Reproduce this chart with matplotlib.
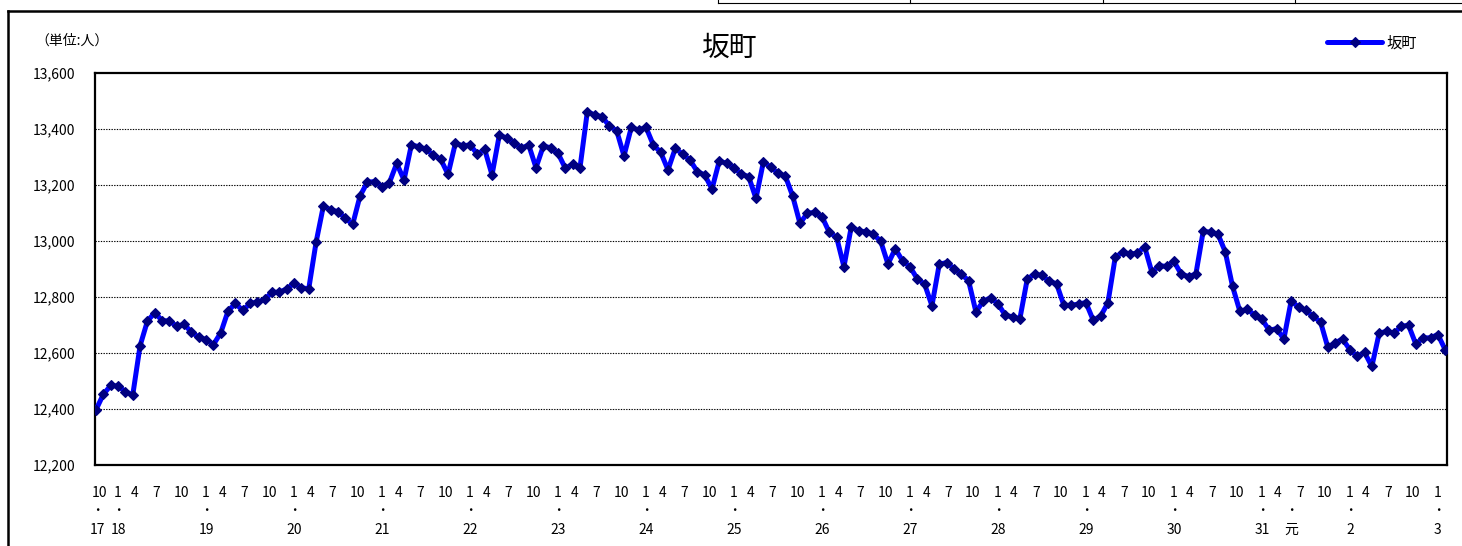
import matplotlib
matplotlib.use("Agg")
import matplotlib.pyplot as plt
from matplotlib.lines import Line2D
import numpy as np

plt.rcParams['font.family'] = ['Noto Sans CJK JP', 'DejaVu Sans']

# ---- data (monthly population, Oct 2005 .. Feb 2021) ----
title = "坂町"
series_name = "坂町"
unit_label = "（単位:人）"

v2005 = [12398, 12453, 12484]                      # Oct-Dec
v2006 = [12482, 12462, 12450, 12626, 12714, 12744, 12716, 12714, 12696, 12702, 12675, 12656]
v2007 = [12648, 12630, 12672, 12750, 12777, 12752, 12777, 12782, 12792, 12817, 12817, 12829]
v2008 = [12849, 12833, 12829, 12995, 13125, 13111, 13105, 13081, 13060, 13161, 13210, 13212]
v2009 = [13194, 13208, 13277, 13218, 13343, 13337, 13327, 13307, 13292, 13238, 13349, 13340]
v2010 = [13343, 13311, 13327, 13236, 13379, 13367, 13351, 13331, 13343, 13262, 13339, 13333]
v2011 = [13313, 13260, 13274, 13262, 13462, 13450, 13444, 13411, 13394, 13304, 13406, 13396]
v2012 = [13406, 13343, 13317, 13254, 13331, 13310, 13289, 13248, 13236, 13186, 13286, 13277]
v2013 = [13262, 13239, 13230, 13152, 13281, 13265, 13242, 13232, 13161, 13063, 13099, 13102]
v2014 = [13087, 13031, 13013, 12908, 13051, 13036, 13033, 13024, 13000, 12918, 12972, 12929]
v2015 = [12908, 12865, 12846, 12769, 12917, 12923, 12901, 12882, 12858, 12747, 12785, 12797]
v2016 = [12776, 12735, 12729, 12723, 12864, 12882, 12877, 12856, 12847, 12770, 12770, 12775]
v2017 = [12780, 12717, 12731, 12779, 12942, 12960, 12954, 12956, 12980, 12888, 12912, 12909]
v2018 = [12927, 12882, 12873, 12882, 13035, 13031, 13025, 12962, 12838, 12749, 12756, 12736]
v2019 = [12721, 12681, 12687, 12650, 12787, 12763, 12752, 12731, 12711, 12620, 12636, 12650]
v2020 = [12612, 12588, 12602, 12552, 12671, 12677, 12671, 12695, 12699, 12632, 12654, 12654]
v2021 = [12666, 12612]                             # Jan-Feb

start_year, start_month = 2005, 10
month_tick_labels = [10, 1, 4, 7]
# era year labels: first point, each January, and May 2019 (Reiwa 元年)
era_labels = ['17', '18', '19', '20', '21', '22', '23', '24', '25', '26',
              '27', '28', '29', '30', '31', '元', '2', '3']

yticks = [12200, 12400, 12600, 12800, 13000, 13200, 13400, 13600]

values = (v2005 + v2006 + v2007 + v2008 + v2009 + v2010 + v2011 + v2012 +
          v2013 + v2014 + v2015 + v2016 + v2017 + v2018 + v2019 + v2020 + v2021)
n = len(values)
x = np.arange(n)
years = [start_year + (start_month - 1 + k) // 12 for k in range(n)]
months = [(start_month - 1 + k) % 12 + 1 for k in range(n)]

# ---- figure ----
W, H = 1462, 546
fig = plt.figure(figsize=(W / 100, H / 100), dpi=100)
def fx(px): return px / W
def fy(py): return 1 - py / H

ax = fig.add_axes([fx(95), fy(465), fx(1447) - fx(95), fy(73) - fy(465)])
ax.plot(x, values, color='#0000FF', lw=3.6, marker='D', ms=4.9,
        mfc='#000080', mec='#000080', mew=0.8, label=series_name,
        solid_capstyle='round', solid_joinstyle='round', zorder=3)

ax.set_xlim(-0.15, n - 1 + 0.25)
ax.set_ylim(yticks[0], yticks[-1])
ax.set_yticks(yticks)
ax.set_yticklabels([f"{v:,}" for v in yticks], fontsize=10)
ax.tick_params(axis='y', length=0, pad=14)
ax.set_xticks([])
for yv in yticks[1:-1]:
    ax.axhline(yv, color='black', lw=0.8, ls=(0, (1.2, 1.2)), zorder=1)
for s in ax.spines.values():
    s.set_linewidth(1.6)
    s.set_color('black')

# ---- category labels (3 rows) ----
tr = ax.get_xaxis_transform()
offs = {10: -0.4, 1: 0.0, 4: -0.8, 7: -0.8}
row1, row2, row3 = -0.072, -0.117, -0.166
era_i = 0
for k in range(n):
    m = months[k]
    if m in month_tick_labels:
        pos = k + (0.4 if k == 0 else offs[m])
        ax.text(pos, row1, str(m), transform=tr, ha='center', va='center',
                fontsize=10)
    is_era = (k == 0) or (m == 1) or (years[k] == 2019 and m == 5)
    if is_era and era_i < len(era_labels):
        pos = k + (0.2 if k == 0 else 0.0)
        ax.text(pos, row2, '・', transform=tr, ha='center', va='center',
                fontsize=9)
        ax.text(pos, row3, era_labels[era_i], transform=tr, ha='center',
                va='center', fontsize=10)
        era_i += 1

# ---- titles ----
fig.text(fx(729), fy(48), title, ha='center', va='center', fontsize=20)
fig.text(fx(35), fy(41), unit_label, ha='left', va='center', fontsize=10)

leg = ax.legend(loc='center left', bbox_to_anchor=(fx(1327), fy(43)),
                bbox_transform=fig.transFigure, frameon=False, fontsize=11,
                handlelength=3.6, handletextpad=0.3, borderpad=0,
                borderaxespad=0, numpoints=1)

# ---- outer frame and table fragment ----
def fline(xs, ys, lw):
    fig.add_artist(Line2D([fx(v) for v in xs], [fy(v) for v in ys],
                          color='black', lw=lw, transform=fig.transFigure))
fline([8, 8], [11, 546], 1.8)
fline([8, 1462], [11, 11], 1.8)
fline([718, 1462], [3, 3], 0.8)
for xv in [718, 910, 1103, 1295]:
    fline([xv, xv], [0, 3], 0.8)

fig.savefig("out.png", dpi=100)
